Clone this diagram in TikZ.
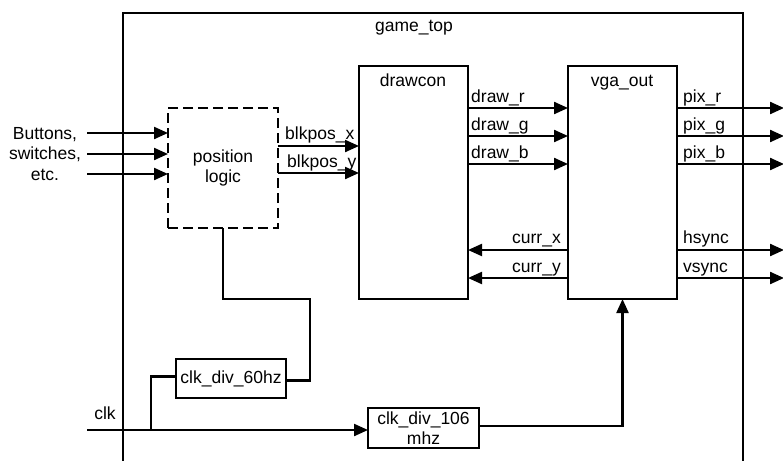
\documentclass[tikz,border=0pt]{standalone}
\usepackage{fontspec}
\setmainfont{Liberation Sans}
\usetikzlibrary{arrows.meta}
\begin{document}
\begin{tikzpicture}[x=1pt,y=-1pt,
  blk/.style={draw, line width=2.2pt, anchor=north west, inner sep=0pt, outer sep=0pt},
  txt/.style={font=\fontsize{17.5}{20.5}\selectfont, inner sep=0pt, align=center},
  wire/.style={line width=2.2pt},
  arr/.style={line width=2.2pt, -{Triangle[length=14pt,width=12pt]}}]
\useasboundingbox (0,0) rectangle (783,460);
% boxes
\node[blk, minimum width=620pt, minimum height=470pt] (gametop) at (123,13) {};
\node[blk, minimum width=109pt, minimum height=233pt] (drawcon) at (359,66) {};
\node[blk, minimum width=109pt, minimum height=233pt] (vga) at (568,66) {};
\node[blk, dashed, dash pattern=on 10pt off 5pt, minimum width=110pt, minimum height=120pt, txt] (pos) at (168,108) {position\\logic};
\node[blk, minimum width=110pt, minimum height=39pt, txt] (clk60) at (176,359) {clk\_div\_60hz};
\node[blk, minimum width=111pt, minimum height=40pt, txt] (clk106) at (368,408) {clk\_div\_106\\mhz};
% titles
\node[txt, anchor=base] (gtlbl) at (414,32) {game\_top};
\node[txt, anchor=base] (dclbl) at (413,86) {drawcon};
\node[txt, anchor=base] (vglbl) at (622,86) {vga\_out};
% inputs
\node[txt] (inlbl) at (45,154) {Buttons,\\switches,\\etc.};
\coordinate (in1) at (87,133);
\coordinate (in2) at (87,154);
\coordinate (in3) at (87,174);
\draw[arr] (in1) -- (in1 -| pos.west);
\draw[arr] (in2) -- (in2 -| pos.west);
\draw[arr] (in3) -- (in3 -| pos.west);
% blkpos
\coordinate (bx) at (300,146);
\coordinate (by) at (300,173);
\draw[arr] (pos.east |- bx) -- (drawcon.west |- bx);
\draw[arr] (pos.east |- by) -- (drawcon.west |- by);
\node[txt, anchor=base west] (bxl) at (285,139) {blkpos\_x};
\node[txt, anchor=base west] (byl) at (287,167) {blkpos\_y};
% draw signals
\coordinate (dr) at (500,108);
\coordinate (dg) at (500,136);
\coordinate (db) at (500,164);
\draw[arr] (drawcon.east |- dr) -- (vga.west |- dr);
\draw[arr] (drawcon.east |- dg) -- (vga.west |- dg);
\draw[arr] (drawcon.east |- db) -- (vga.west |- db);
\node[txt, anchor=base west] (drl) at (471,102) {draw\_r};
\node[txt, anchor=base west] (dgl) at (471,130) {draw\_g};
\node[txt, anchor=base west] (dbl) at (471,158) {draw\_b};
% curr
\coordinate (cx) at (500,250);
\coordinate (cy) at (500,278);
\draw[arr] (vga.west |- cx) -- (drawcon.east |- cx);
\draw[arr] (vga.west |- cy) -- (drawcon.east |- cy);
\node[txt, anchor=base east] (cxl) at (561,243) {curr\_x};
\node[txt, anchor=base east] (cyl) at (561,272) {curr\_y};
% outputs
\coordinate (o1) at (784,108);
\coordinate (o2) at (784,136);
\coordinate (o3) at (784,164);
\coordinate (o4) at (784,250);
\coordinate (o5) at (784,278);
\draw[arr] (vga.east |- o1) -- (o1);
\draw[arr] (vga.east |- o2) -- (o2);
\draw[arr] (vga.east |- o3) -- (o3);
\draw[arr] (vga.east |- o4) -- (o4);
\draw[arr] (vga.east |- o5) -- (o5);
\node[txt, anchor=base west] (p1) at (683,102) {pix\_r};
\node[txt, anchor=base west] (p2) at (683,130) {pix\_g};
\node[txt, anchor=base west] (p3) at (683,158) {pix\_b};
\node[txt, anchor=base west] (p4) at (683,243) {hsync};
\node[txt, anchor=base west] (p5) at (683,272) {vsync};
% clock wiring
\coordinate (bend) at (310,299);
\draw[wire] (pos.south) |- (bend) |- ([yshift=-2pt]clk60.east);
\coordinate (clkin) at (87,430);
\coordinate (br) at (151,430);
\node[txt, anchor=base] (clkl) at (105,419) {clk};
\draw[arr] (clkin) -- (clk106.west |- clkin);
\draw[wire] (br) |- ([yshift=2pt]clk60.west);
\draw[arr] ([yshift=2pt]clk106.east) -| (vga.south);
\end{tikzpicture}
\end{document}
